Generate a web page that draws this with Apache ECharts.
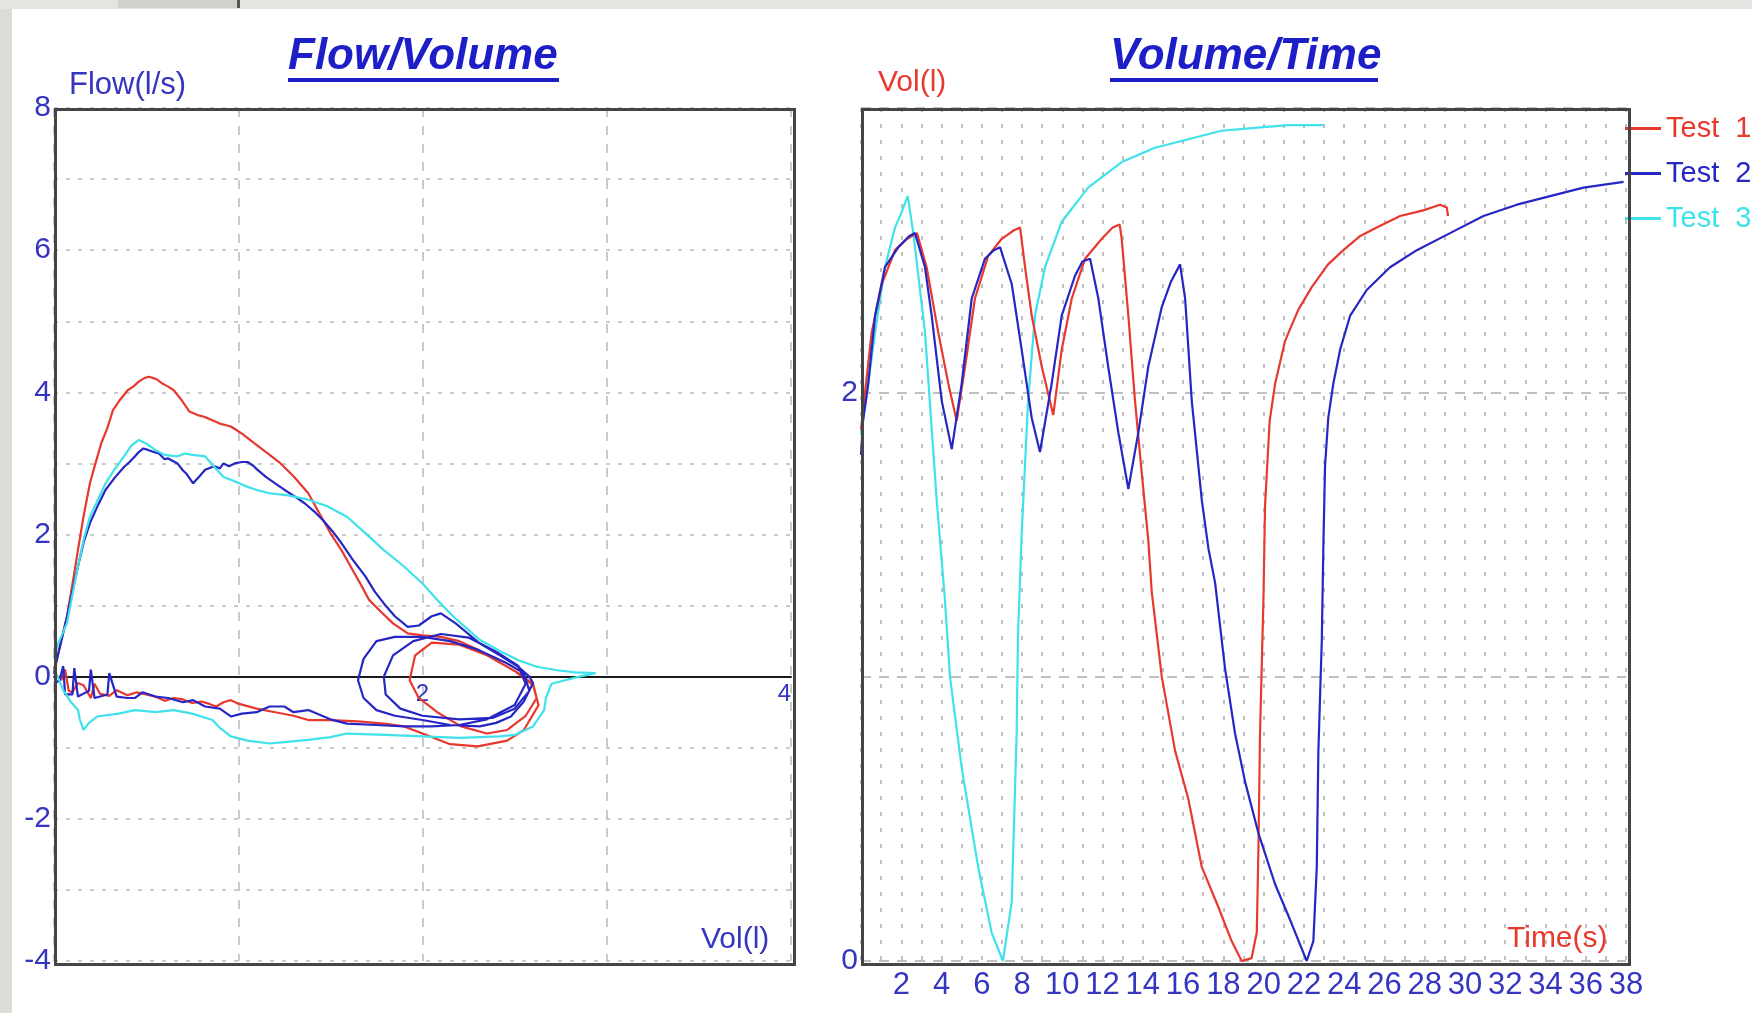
<!DOCTYPE html>
<html>
<head>
<meta charset="utf-8">
<script src="https://cdn.jsdelivr.net/npm/echarts@6/dist/echarts.min.js"></script>
<style>
  html, body { margin: 0; padding: 0; background: #ffffff; }
  #chart { width: 1752px; height: 1013px; }
</style>
</head>
<body>
<div id="chart"></div>
<script>
// ---- Flow/Volume loops: [volume (l), flow (l/s)] ----
const fvTest1 = [
  [0.0,0.1],[0.03,0.4],[0.07,0.84],[0.1,1.3],[0.13,1.78],[0.16,2.25],[0.195,2.72],[0.225,3.0],[0.256,3.28],
  [0.29,3.5],[0.32,3.75],[0.36,3.9],[0.40,4.03],[0.43,4.08],[0.46,4.15],[0.49,4.2],[0.515,4.22],[0.54,4.2],
  [0.56,4.18],[0.59,4.12],[0.62,4.08],[0.65,4.03],[0.69,3.9],[0.735,3.73],[0.78,3.68],[0.81,3.66],[0.84,3.63],
  [0.9,3.56],[0.96,3.52],[0.99,3.47],[1.02,3.42],[1.09,3.28],[1.16,3.14],[1.23,3.0],[1.30,2.82],[1.34,2.7],
  [1.38,2.58],[1.44,2.3],[1.50,2.02],[1.56,1.78],[1.61,1.55],[1.66,1.32],[1.71,1.08],[1.78,0.9],[1.84,0.75],
  [1.92,0.61],[2.0,0.58],[2.1,0.56],[2.2,0.5],[2.3,0.38],[2.42,0.2],[2.52,0.05],[2.6,-0.1],[2.62,-0.3],
  [2.56,-0.55],[2.46,-0.75],[2.35,-0.8],[2.21,-0.7],[2.08,-0.5],[1.98,-0.3],[1.93,-0.05],[1.96,0.3],
  [2.05,0.48],[2.2,0.45],[2.35,0.3],[2.5,0.08],[2.6,-0.12],[2.63,-0.4],[2.55,-0.75],[2.46,-0.9],[2.3,-0.98],
  [2.15,-0.95],[2.0,-0.8],[1.9,-0.7],[1.79,-0.66],[1.65,-0.63],[1.5,-0.61],[1.38,-0.61],[1.3,-0.55],
  [1.2,-0.5],[1.1,-0.45],[1.0,-0.38],[0.96,-0.33],[0.92,-0.36],[0.88,-0.42],[0.84,-0.38],[0.8,-0.35],
  [0.75,-0.37],[0.7,-0.32],[0.65,-0.3],[0.6,-0.34],[0.55,-0.28],[0.5,-0.25],[0.45,-0.22],[0.4,-0.26],
  [0.34,-0.19],[0.3,-0.27],[0.25,-0.24],[0.22,-0.1],[0.2,-0.3],[0.16,-0.12],[0.13,-0.09],[0.1,-0.22],
  [0.08,-0.2],[0.06,0.1],[0.04,-0.05],[0.0,0.05]
];
const fvTest2 = [
  [0.0,0.05],[0.03,0.4],[0.07,0.84],[0.1,1.2],[0.13,1.55],[0.16,1.88],[0.195,2.16],[0.24,2.42],[0.28,2.63],
  [0.33,2.8],[0.38,2.95],[0.41,3.02],[0.44,3.1],[0.46,3.16],[0.485,3.21],[0.51,3.19],[0.53,3.17],[0.57,3.14],
  [0.6,3.06],[0.62,3.07],[0.67,3.0],[0.7,2.9],[0.72,2.85],[0.755,2.72],[0.79,2.82],[0.82,2.91],[0.87,2.96],
  [0.9,2.93],[0.92,3.0],[0.95,2.96],[0.98,3.0],[1.02,3.02],[1.05,3.02],[1.08,2.97],[1.1,2.92],[1.15,2.81],
  [1.2,2.72],[1.25,2.63],[1.31,2.53],[1.36,2.44],[1.41,2.33],[1.46,2.20],[1.51,2.05],[1.56,1.88],[1.62,1.65],
  [1.69,1.41],[1.74,1.2],[1.79,1.03],[1.85,0.85],[1.92,0.70],[1.98,0.72],[2.05,0.85],[2.10,0.89],[2.18,0.75],
  [2.31,0.47],[2.42,0.3],[2.52,0.14],[2.58,0.0],[2.60,-0.09],[2.55,-0.35],[2.48,-0.56],[2.4,-0.65],
  [2.31,-0.70],[2.15,-0.68],[2.0,-0.61],[1.85,-0.55],[1.75,-0.47],[1.68,-0.3],[1.65,-0.05],[1.68,0.25],
  [1.75,0.5],[1.85,0.56],[2.0,0.56],[2.15,0.5],[2.3,0.38],[2.45,0.2],[2.55,0.05],[2.58,-0.2],[2.5,-0.45],
  [2.38,-0.58],[2.2,-0.6],[2.0,-0.55],[1.88,-0.45],[1.8,-0.25],[1.79,0.0],[1.84,0.3],[1.95,0.5],[2.1,0.6],
  [2.25,0.55],[2.4,0.35],[2.52,0.15],[2.56,-0.1],[2.5,-0.4],[2.35,-0.6],[2.2,-0.68],[2.05,-0.7],[1.9,-0.7],
  [1.75,-0.68],[1.59,-0.66],[1.5,-0.6],[1.38,-0.47],[1.3,-0.5],[1.25,-0.42],[1.17,-0.42],[1.1,-0.5],
  [1.02,-0.52],[0.96,-0.56],[0.9,-0.45],[0.82,-0.42],[0.755,-0.33],[0.7,-0.36],[0.62,-0.3],[0.55,-0.28],
  [0.48,-0.22],[0.44,-0.3],[0.4,-0.3],[0.34,-0.28],[0.3,0.05],[0.29,-0.25],[0.22,-0.3],[0.2,0.1],
  [0.19,-0.2],[0.13,-0.28],[0.11,0.12],[0.1,-0.25],[0.06,-0.25],[0.05,0.15],[0.03,-0.05],[0.0,-0.1]
];
const fvTest3 = [
  [0.0,0.25],[0.02,0.45],[0.07,0.75],[0.1,1.15],[0.13,1.55],[0.16,1.92],[0.195,2.25],[0.24,2.5],[0.28,2.72],
  [0.33,2.92],[0.38,3.10],[0.42,3.25],[0.46,3.33],[0.5,3.28],[0.55,3.19],[0.6,3.12],[0.67,3.10],[0.71,3.14],
  [0.75,3.12],[0.82,3.10],[0.87,2.95],[0.92,2.81],[0.98,2.75],[1.05,2.67],[1.11,2.62],[1.17,2.58],[1.27,2.55],
  [1.38,2.49],[1.48,2.4],[1.59,2.25],[1.69,2.02],[1.79,1.78],[1.9,1.55],[2.0,1.31],[2.08,1.08],[2.17,0.84],
  [2.24,0.68],[2.31,0.52],[2.42,0.36],[2.52,0.23],[2.62,0.14],[2.73,0.09],[2.83,0.06],[2.94,0.05],[2.85,0.0],
  [2.7,-0.1],[2.67,-0.3],[2.66,-0.47],[2.6,-0.7],[2.5,-0.82],[2.42,-0.84],[2.2,-0.86],[2.0,-0.84],[1.8,-0.82],
  [1.59,-0.80],[1.5,-0.85],[1.38,-0.89],[1.25,-0.92],[1.17,-0.94],[1.05,-0.9],[0.96,-0.84],[0.9,-0.72],
  [0.86,-0.61],[0.75,-0.52],[0.65,-0.47],[0.55,-0.5],[0.44,-0.47],[0.35,-0.52],[0.235,-0.56],[0.19,-0.65],
  [0.16,-0.75],[0.14,-0.6],[0.13,-0.47],[0.09,-0.35],[0.05,-0.19],[0.02,0.0],[0.0,0.1]
];

// ---- Volume/Time curves: [time (s), volume (l)] ----
const vtTest1 = [
  [0,1.87],[0.2,2.0],[0.53,2.21],[1.03,2.38],[1.69,2.50],[2.3,2.54],[2.78,2.56],[3.26,2.44],[3.84,2.21],
  [4.34,2.03],[4.75,1.90],[5.17,2.09],[5.66,2.33],[6.32,2.48],[6.99,2.54],[7.6,2.57],[7.9,2.58],[8.15,2.44],
  [8.48,2.27],[8.98,2.09],[9.55,1.92],[9.97,2.15],[10.47,2.33],[11.13,2.47],[11.96,2.54],[12.5,2.58],
  [12.85,2.59],[12.95,2.54],[13.28,2.27],[13.61,1.97],[13.94,1.72],[14.27,1.48],[14.44,1.30],[14.94,1.0],
  [15.6,0.74],[16.26,0.57],[16.93,0.33],[17.75,0.19],[18.41,0.07],[18.91,0.0],[19.4,0.01],[19.66,0.1],
  [19.74,0.39],[19.82,0.8],[19.99,1.27],[20.07,1.6],[20.3,1.9],[20.57,2.03],[21.06,2.18],[21.72,2.29],
  [22.39,2.37],[23.2,2.45],[23.96,2.50],[24.8,2.55],[25.62,2.58],[26.2,2.60],[26.78,2.62],[27.93,2.64],
  [28.76,2.66],[29.1,2.65],[29.16,2.62]
];
const vtTest2 = [
  [0,1.78],[0.1,1.9],[0.36,2.03],[0.7,2.27],[1.19,2.44],[1.85,2.51],[2.4,2.55],[2.68,2.56],[3.18,2.44],
  [3.51,2.27],[4.01,1.97],[4.51,1.80],[5.0,2.03],[5.5,2.33],[6.16,2.47],[6.6,2.50],[6.91,2.51],[7.49,2.38],
  [7.98,2.15],[8.48,1.91],[8.89,1.79],[9.47,2.03],[9.97,2.27],[10.63,2.41],[11.0,2.46],[11.38,2.47],
  [11.79,2.33],[12.28,2.09],[12.78,1.86],[13.28,1.66],[13.78,1.86],[14.27,2.09],[14.94,2.30],[15.4,2.39],
  [15.85,2.45],[16.1,2.33],[16.43,1.97],[16.93,1.62],[17.26,1.45],[17.59,1.33],[18.08,1.03],[18.58,0.80],
  [19.08,0.63],[19.74,0.45],[20.57,0.27],[21.4,0.13],[22.14,0.0],[22.47,0.07],[22.64,0.33],[22.72,0.74],
  [22.89,1.13],[22.97,1.47],[23.05,1.74],[23.21,1.91],[23.46,2.03],[23.8,2.15],[24.3,2.27],[25.12,2.36],
  [26.28,2.44],[27.61,2.50],[29.26,2.56],[30.92,2.62],[32.58,2.66],[34.23,2.69],[35.89,2.72],[37.88,2.74]
];
const vtTest3 = [
  [0,1.85],[0.3,2.0],[0.7,2.21],[1.19,2.44],[1.69,2.58],[2.0,2.63],[2.32,2.69],[2.6,2.56],[3.18,2.21],
  [3.76,1.62],[4.17,1.27],[4.42,1.0],[5.0,0.68],[5.82,0.33],[6.49,0.10],[7.05,0.0],[7.49,0.21],[7.73,0.8],
  [7.8,1.15],[7.98,1.5],[8.3,1.97],[8.64,2.27],[9.14,2.44],[9.97,2.6],[11.28,2.72],[12.95,2.81],[14.6,2.86],
  [16.26,2.89],[17.9,2.92],[19.57,2.93],[21.2,2.94],[22.96,2.94]
];

const testNames = ['Test  1', 'Test  2', 'Test  3'];
const testColors = ['#e8392f', '#2626c4', '#3fe2ea'];

const FONT = '"Liberation Sans", Arial, sans-serif';
const LABEL_BLUE = '#3535c0';
const TITLE_BLUE = '#1e1ec8';

const chart = echarts.init(document.getElementById('chart'), null, { renderer: 'canvas' });

function lineSeries(name, color, data, axisIdx, z) {
  return {
    name: name, type: 'line', data: data,
    xAxisIndex: axisIdx, yAxisIndex: axisIdx,
    showSymbol: false, symbol: 'none', clip: true, z: z,
    lineStyle: { color: color, width: 2.2 },
    itemStyle: { color: color },
    animation: false
  };
}

// the volume axis of the flow/volume plot sits on the zero-flow line
const FV_TOP = 108, FV_HEIGHT = 853, FLOW_MIN = -4, FLOW_MAX = 8;
const zeroOffset = -FV_HEIGHT * (0 - FLOW_MIN) / (FLOW_MAX - FLOW_MIN);

const option = {
  backgroundColor: '#ffffff',
  animation: false,
  textStyle: { fontFamily: FONT },
  title: [
    { text: 'Flow/Volume', left: 288, top: 35, padding: 0,
      textStyle: { fontSize: 44, fontStyle: 'italic', fontWeight: 'bold', color: TITLE_BLUE, fontFamily: FONT } },
    { text: 'Volume/Time', left: 1110, top: 35, padding: 0,
      textStyle: { fontSize: 44, fontStyle: 'italic', fontWeight: 'bold', color: TITLE_BLUE, fontFamily: FONT } }
  ],
  legend: {
    orient: 'vertical', left: 1625, top: 114, itemWidth: 36, itemHeight: 3, itemGap: 16,
    icon: 'rect', padding: 0,
    textStyle: { fontSize: 29, fontFamily: FONT },
    data: testNames.map((n, i) => ({ name: n, textStyle: { color: testColors[i] } }))
  },
  grid: [
    { left: 54, top: FV_TOP, width: 737, height: FV_HEIGHT, show: true, backgroundColor: '#ffffff', borderWidth: 0 },
    { left: 861, top: 108, width: 765, height: 853, show: true, backgroundColor: '#ffffff', borderWidth: 0 }
  ],
  xAxis: [
    { type: 'value', gridIndex: 0, min: 0, max: 4, interval: 1, position: 'bottom', offset: zeroOffset,
      axisLine: { show: true, onZero: false, lineStyle: { color: '#1a1a1a', width: 2 } },
      axisTick: { show: false },
      axisLabel: { color: LABEL_BLUE, fontSize: 24, margin: 6, fontFamily: FONT, alignMaxLabel: 'right',
        formatter: v => (v === 2 || v === 4) ? String(v) : '' },
      splitLine: { show: true, lineStyle: { color: '#b9b9b9', width: 1.5, type: [9, 9] } } },
    { type: 'value', gridIndex: 1, min: 0, max: 38, interval: 1,
      axisLine: { show: false }, axisTick: { show: false },
      axisLabel: { color: LABEL_BLUE, fontSize: 31, margin: 9, fontFamily: FONT,
        formatter: v => (v > 0 && v % 2 === 0) ? String(v) : '' },
      splitLine: { show: true, lineStyle: { color: '#aaaaaa', width: 1.5, type: [4, 12] } } }
  ],
  yAxis: [
    { type: 'value', gridIndex: 0, min: FLOW_MIN, max: FLOW_MAX, interval: 1,
      axisLine: { show: false }, axisTick: { show: false },
      axisLabel: { color: LABEL_BLUE, fontSize: 30, margin: 3, fontFamily: FONT,
        formatter: v => (v % 2 === 0) ? String(v) : '' },
      splitLine: { show: true, lineStyle: { color: '#b9b9b9', width: 1.5, type: [4, 8] } } },
    { type: 'value', gridIndex: 1, min: 0, max: 3, interval: 1,
      axisLine: { show: false }, axisTick: { show: false },
      axisLabel: { color: LABEL_BLUE, fontSize: 30, margin: 3, fontFamily: FONT,
        formatter: v => (v === 0 || v === 2) ? String(v) : '' },
      splitLine: { show: true, lineStyle: { color: '#aaaaaa', width: 1.5, type: [10, 8] } } }
  ],
  series: [
    lineSeries(testNames[0], testColors[0], fvTest1, 0, 2),
    lineSeries(testNames[1], testColors[1], fvTest2, 0, 3),
    lineSeries(testNames[2], testColors[2], fvTest3, 0, 4),
    lineSeries(testNames[2], testColors[2], vtTest3, 1, 2),
    lineSeries(testNames[0], testColors[0], vtTest1, 1, 3),
    lineSeries(testNames[1], testColors[1], vtTest2, 1, 4)
  ],
  graphic: [
    // window chrome: left strip and top bar
    { type: 'rect', left: 0, top: 0, shape: { width: 12, height: 1013 }, style: { fill: '#dddbd6' }, z: 0 },
    { type: 'rect', left: 0, top: 0, shape: { width: 1752, height: 9 }, style: { fill: '#e6e4e0' }, z: 0 },
    { type: 'rect', left: 118, top: 0, shape: { width: 120, height: 8 }, style: { fill: '#d2d0cb' }, z: 0 },
    { type: 'rect', left: 237, top: 0, shape: { width: 3, height: 8 }, style: { fill: '#555555' }, z: 0 },
    // plot frames
    { type: 'rect', left: 53, top: 107, shape: { width: 739, height: 855 },
      style: { fill: 'none', stroke: '#454545', lineWidth: 3 }, z: 50 },
    { type: 'rect', left: 860, top: 107, shape: { width: 767, height: 855 },
      style: { fill: 'none', stroke: '#454545', lineWidth: 3 }, z: 50 },
    // title underlines
    { type: 'rect', left: 288, top: 78, shape: { width: 271, height: 4 }, style: { fill: TITLE_BLUE }, z: 10 },
    { type: 'rect', left: 1110, top: 78, shape: { width: 268, height: 4 }, style: { fill: TITLE_BLUE }, z: 10 },
    // axis captions
    { type: 'text', left: 69, top: 70, z: 10,
      style: { text: 'Flow(l/s)', fill: LABEL_BLUE, font: '31px ' + FONT } },
    { type: 'text', left: 701, top: 925, z: 10,
      style: { text: 'Vol(l)', fill: LABEL_BLUE, font: '30px ' + FONT } },
    { type: 'text', left: 878, top: 68, z: 10,
      style: { text: 'Vol(l)', fill: testColors[0], font: '30px ' + FONT } },
    { type: 'text', left: 1507, top: 924, z: 10,
      style: { text: 'Time(s)', fill: testColors[0], font: '30px ' + FONT } }
  ]
};

chart.setOption(option);
</script>
</body>
</html>
